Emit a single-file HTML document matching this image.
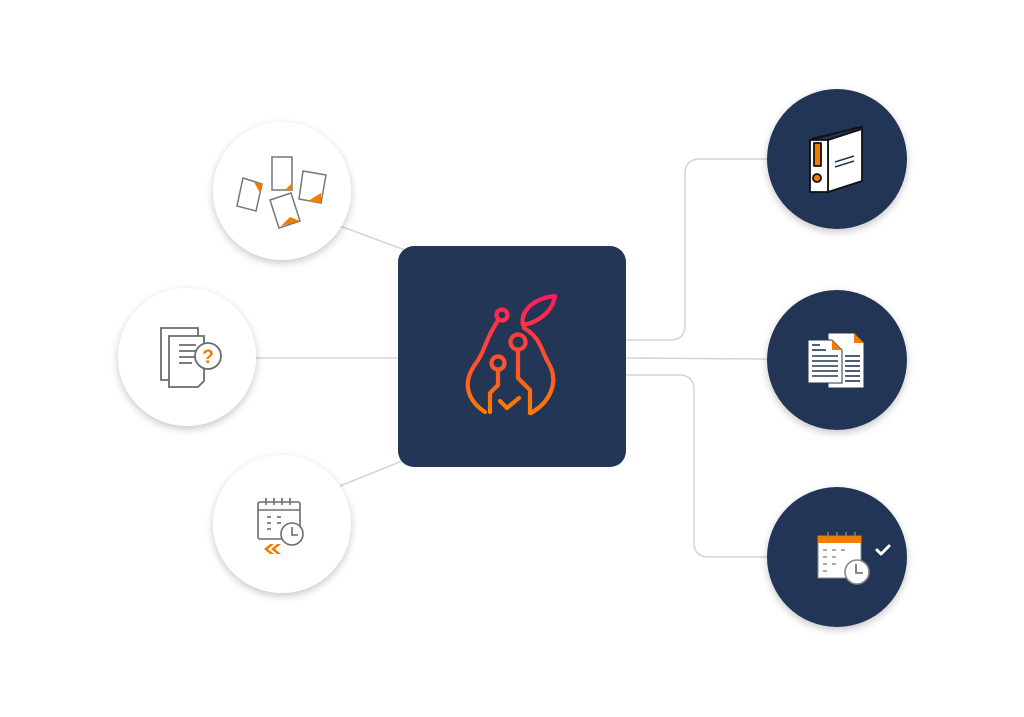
<!DOCTYPE html>
<html><head><meta charset="utf-8"><style>
html,body{margin:0;padding:0;background:#fff;}
svg{display:block;}
</style></head><body>
<svg width="1024" height="717" viewBox="0 0 1024 717" xmlns="http://www.w3.org/2000/svg">
<defs>
<linearGradient id="g2" x1="0" y1="295" x2="0" y2="416" gradientUnits="userSpaceOnUse">
<stop offset="0" stop-color="#ff1a5e"/><stop offset="1" stop-color="#ff7f00"/>
</linearGradient>
<filter id="sh" x="-30%" y="-30%" width="160%" height="160%">
<feDropShadow dx="0" dy="3" stdDeviation="4" flood-color="#000" flood-opacity="0.22"/>
</filter>
</defs>
<g fill="none" stroke="#d4d4d4" stroke-width="1.5">
<line x1="340" y1="226" x2="405" y2="250"/>
<line x1="255" y1="358" x2="400" y2="358"/>
<line x1="340" y1="486" x2="402" y2="461"/>
<path d="M626 340 H670 Q685 340 685 325 V174 Q685 159 700 159 H770"/>
<line x1="626" y1="358" x2="770" y2="359"/>
<path d="M626 375 H679 Q694 375 694 390 V542 Q694 557 709 557 H770"/>
</g>
<g fill="#fff" filter="url(#sh)">
<circle cx="282" cy="191" r="69"/>
<circle cx="187" cy="357" r="69"/>
<circle cx="282" cy="524" r="69"/>
</g>
<g fill="#233656" filter="url(#sh)">
<circle cx="837" cy="159" r="70"/>
<circle cx="837" cy="360" r="70"/>
<circle cx="837" cy="557" r="70"/>
</g>
<rect x="398" y="246" width="228" height="221" rx="16" fill="#233656"/>
<g fill="none" stroke="url(#g2)" stroke-width="4.2" stroke-linecap="round" stroke-linejoin="round">
<circle cx="502" cy="315" r="5.5"/>
<path d="M497 322 C484 342 486 350 474 366 C461 386 470 402 485 412"/>
<path d="M523 325 C520 310 535 298 555 296 C553 310 540 322 523 325 Z"/>
<path d="M524 328 C541 338 541 350 548 362 C560 382 550 402 531 413"/>
<circle cx="518" cy="342" r="7.5"/>
<path d="M518 350 V378 L530 390 V413"/>
<circle cx="498" cy="363" r="6.5"/>
<path d="M498 370 V385 L490 393 V412"/>
<path d="M500 401 L507 408 L519 398"/>
</g>
<g stroke="#777" stroke-width="1.5" fill="#fff">
<path d="M243 178 L262 184 L256 211 L237 206 Z"/>
<path d="M272 157 H292 V190 H272 Z"/>
<path d="M303 171 L326 175 L321 203 L299 199 Z"/>
<path d="M270 200 L291 193 L300 221 L279 228 Z"/>
</g>
<g fill="#f07d00">
<path d="M254 182 L262 184 L260 193 Z"/>
<path d="M285 190 L292 183 V190 Z"/>
<path d="M321 193 L321 203 L308 201 Z"/>
<path d="M281 226 L300 221 L290 217 Z"/>
</g>
<g stroke="#6c6c6c" stroke-width="1.8" fill="#fff">
<path d="M161 328 H198 V380 H161 Z"/>
<path d="M169 336 H204 V381 L198 387 H169 Z"/>
<line x1="179" y1="345" x2="196" y2="345"/><line x1="179" y1="351" x2="196" y2="351"/>
<line x1="179" y1="357" x2="196" y2="357"/><line x1="179" y1="363" x2="192" y2="363"/>
<circle cx="208" cy="356" r="13"/>
</g>
<text x="208" y="363" text-anchor="middle" font-family="Liberation Sans, sans-serif" font-weight="bold" font-size="19" fill="#f07d00">?</text>
<g stroke="#6c6c6c" stroke-width="1.6" fill="#fff">
<rect x="258" y="502" width="42" height="37" rx="2"/>
<line x1="258" y1="510" x2="300" y2="510"/>
<line x1="266" y1="498" x2="266" y2="505"/><line x1="274" y1="498" x2="274" y2="505"/>
<line x1="282" y1="498" x2="282" y2="505"/><line x1="290" y1="498" x2="290" y2="505"/>
<line x1="267" y1="517" x2="271" y2="517"/><line x1="277" y1="517" x2="281" y2="517"/>
<line x1="267" y1="523" x2="271" y2="523"/><line x1="277" y1="523" x2="281" y2="523"/>
<line x1="267" y1="529" x2="271" y2="529"/>
<circle cx="292" cy="534" r="11"/>
<path d="M292 527 V535 H298" fill="none"/>
</g>
<g fill="#f07d00"><path d="M270 544 L264 549 L270 554 H274 L268 549 L274 544 Z"/><path d="M277 544 L271 549 L277 554 H281 L275 549 L281 544 Z"/></g>
<g stroke="#111" stroke-width="1.8" stroke-linejoin="round">
<path d="M810 140 L815 138 L862 127 L856 128 Z" fill="#fff"/>
<path d="M828 140 L862 129 V181 L828 192 Z" fill="#fff"/>
<path d="M810 140 H828 V192 H810 Z" fill="#fff"/>
<rect x="814" y="143" width="7" height="23" fill="#f07d00"/>
<circle cx="817" cy="178" r="4" fill="#f07d00"/>
</g>
<g stroke="#233656" stroke-width="1.5"><line x1="835" y1="162" x2="854" y2="156"/><line x1="835" y1="167" x2="854" y2="161"/></g>
<g>
<path d="M828 333 H854 L864 343 V388 H828 Z" fill="#fff" stroke="#233656" stroke-width="1"/>
<path d="M854 333 L864 343 H854 Z" fill="#f07d00"/>
<path d="M808 340 H832 L842 350 V383 H808 Z" fill="#fff" stroke="#233656" stroke-width="1"/>
<path d="M832 340 L842 350 H832 Z" fill="#f07d00"/>
<g stroke="#233656" stroke-width="1.6">
<line x1="812" y1="345" x2="820" y2="345"/><line x1="812" y1="350" x2="826" y2="350"/>
<line x1="812" y1="356" x2="838" y2="356"/><line x1="812" y1="361" x2="838" y2="361"/>
<line x1="812" y1="366" x2="838" y2="366"/><line x1="812" y1="371" x2="838" y2="371"/>
<line x1="812" y1="376" x2="838" y2="376"/>
<line x1="845" y1="356" x2="860" y2="356"/><line x1="845" y1="361" x2="860" y2="361"/>
<line x1="845" y1="366" x2="860" y2="366"/><line x1="845" y1="371" x2="860" y2="371"/>
<line x1="845" y1="376" x2="860" y2="376"/><line x1="845" y1="381" x2="860" y2="381"/>
</g>
</g>
<g>
<rect x="818" y="536" width="43" height="42" fill="#fff" stroke="#888" stroke-width="1"/>
<rect x="818" y="536" width="43" height="7" fill="#f07d00"/>
<g stroke="#888" stroke-width="1.4">
<line x1="828" y1="532" x2="828" y2="538"/><line x1="837" y1="532" x2="837" y2="538"/>
<line x1="846" y1="532" x2="846" y2="538"/><line x1="855" y1="532" x2="855" y2="538"/>
<line x1="823" y1="550" x2="827" y2="550"/><line x1="832" y1="550" x2="836" y2="550"/><line x1="841" y1="550" x2="845" y2="550"/>
<line x1="823" y1="557" x2="827" y2="557"/><line x1="832" y1="557" x2="836" y2="557"/>
<line x1="823" y1="564" x2="827" y2="564"/><line x1="832" y1="564" x2="836" y2="564"/>
<line x1="823" y1="571" x2="827" y2="571"/>
</g>
<circle cx="857" cy="572" r="12" fill="#fff" stroke="#888" stroke-width="1.6"/>
<path d="M856 564 V573 H863" fill="none" stroke="#666" stroke-width="1.6"/>
<path d="M877 550 L881 554 L889 546" fill="none" stroke="#fff" stroke-width="3" stroke-linecap="round" stroke-linejoin="round"/>
</g>
</svg>
</body></html>
